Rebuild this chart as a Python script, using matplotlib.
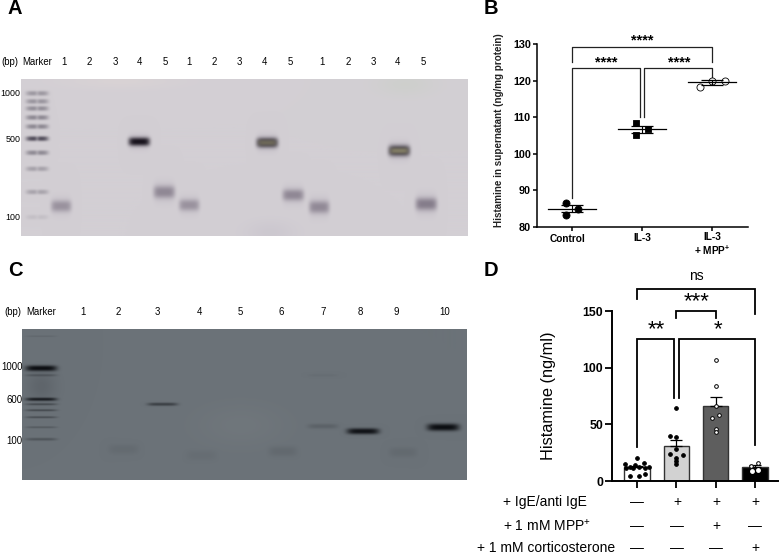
#!/usr/bin/env python3
"""Gel images (A, C) with histamine plots (B, D)"""

import numpy as np
import matplotlib
matplotlib.use('Agg')
import matplotlib.pyplot as plt

plt.rcParams['font.family'] = ['Liberation Sans', 'DejaVu Sans']
plt.rcParams['mathtext.fontset'] = 'custom'
plt.rcParams['mathtext.rm'] = 'Liberation Sans'
plt.rcParams['mathtext.bf'] = 'Liberation Sans:bold'

W, H = 783, 554

# ===== PANEL A GEL (pixel positions on the page) =====
A_LANE_LABELS = ['1', '2', '3', '4', '5', '1', '2', '3', '4', '5', '1', '2', '3', '4', '5']
A_LANE_X = [64, 89, 115, 139, 165, 189, 214, 239, 264, 290, 322, 348, 373, 397, 423]
A_SIZE_LABELS = ['1000', '500', '100']
A_SIZE_Y = [94, 140, 217]
A_BAND_X = [61, 139, 164, 189, 267, 293, 319, 399, 426]
A_BAND_Y = [206, 142, 192, 205, 143, 195, 207, 151, 204]
A_BAND_W = [10, 10.5, 10.5, 10, 10.5, 10.5, 10, 10.5, 10.5]
A_BAND_H = [5.5, 4.2, 6, 5.5, 4.8, 5.5, 6, 5.2, 6]
A_BAND_S = [0.6, 1.0, 0.72, 0.6, 0.9, 0.72, 0.7, 0.9, 0.85]
A_CORE_X = [267, 399]
A_CORE_Y = [143, 151]
A_CORE_S = [0.5, 0.65]
A_LADDER_Y = [94, 102, 109, 118, 127, 139, 153, 169, 192, 217]
A_LADDER_S = [0.36, 0.38, 0.42, 0.46, 0.46, 0.85, 0.45, 0.3, 0.28, 0.1]

# ===== PANEL C GEL =====
C_LANE_LABELS = ['1', '2', '3', '4', '5', '6', '7', '8', '9', '10']
C_LANE_X = [83, 118, 157, 199, 240, 281, 323, 360, 396, 445]
C_SIZE_LABELS = ['1000', '600', '100']
C_SIZE_Y = [367, 400, 441]
C_BAND_X = [162, 322, 322, 362, 442, 123, 201, 282, 402]
C_BAND_Y = [404, 426, 375, 431, 427, 449, 455, 451, 452]
C_BAND_W = [15, 15, 15, 16, 16, 15, 15, 14, 14]
C_BAND_H = [1.6, 2.4, 1.4, 3.0, 3.6, 5, 5, 5, 5]
C_BAND_S = [0.5, 0.16, 0.05, 0.95, 1.0, 0.07, 0.05, 0.09, 0.08]
C_LADDER_Y = [336, 368, 375, 399, 404, 410, 417, 427, 439]
C_LADDER_S = [0.12, 1.0, 0.25, 0.85, 0.4, 0.42, 0.38, 0.25, 0.3]
C_LADDER_H = [0.8, 2.8, 1.2, 1.6, 1.0, 1.0, 1.0, 1.0, 1.4]

# ===== PANEL B DATA =====
B_MEANS = [85.0, 106.7, 119.5]
B_ERRS = [1.0, 1.0, 0.7]
B_DX_CONTROL = [-0.09, 0.09, -0.09]
B_DX_IL3 = [-0.09, 0.09, -0.09]
B_DX_MPP = [-0.18, 0.0, 0.18]
B_POINTS_CONTROL = [86.6, 85.0, 83.3]
B_POINTS_IL3 = [108.3, 106.7, 105.0]
B_POINTS_MPP = [118.3, 120.0, 120.0]
B_TICKS = [80, 90, 100, 110, 120, 130]

# ===== PANEL D DATA =====
D_MEANS = [12, 31, 66, 12.5]
D_ERRS = [1.4, 5, 8, 1.6]
D_COLORS = ['white', '#d2d2d2', '#5e5e5e', 'black']
D_PTS_1 = [20, 15, 12.3, 13.8, 16.2, 11.8, 12, 12.3, 11.2, 11.5, 4, 4.7, 6.2]
D_DX_1 = [0, -0.30, -0.18, -0.05, 0.17, -0.28, 0.06, 0.30, -0.11, 0.2, -0.18, 0.06, 0.19]
D_PTS_2 = [64, 40, 39, 28, 24, 23, 20.6, 17.6, 15.3]
D_DX_2 = [0, -0.17, 0, 0, -0.17, 0.18, 0, 0, 0]
D_PTS_3 = [107, 84, 66, 58.5, 56, 46, 43]
D_DX_3 = [0, 0, 0, 0.09, -0.09, 0, 0]
D_PTS_4 = [16, 13.5, 9, 10]
D_DX_4 = [0.09, -0.09, -0.08, 0.09]
D_TICKS = [0, 50, 100, 150]
D_ROW_LABELS = ['+ IgE/anti IgE', '+ 1 mM MPP$^{+}$', '+ 1 mM corticosterone']
D_ROW_1 = ['—', '+', '+', '+']
D_ROW_2 = ['—', '—', '+', '—']
D_ROW_3 = ['—', '—', '—', '+']


def page_axes(x0, y0, x1, y1):
    # axes placed by page pixels, y measured from the top
    return fig.add_axes([x0 / W, 1 - y1 / H, (x1 - x0) / W, (y1 - y0) / H])


def band(xx, yy, cx, cy, hw, hh):
    return np.exp(-np.abs((xx - cx) / hw) ** 5) * np.exp(-np.abs((yy - cy) / hh) ** 2.5)


def smear(xx, yy, cx, cy, sx, sy):
    return np.exp(-((xx - cx) / sx) ** 2 - ((yy - cy) / sy) ** 2)


def mix(img, color, alpha):
    alpha = np.clip(alpha, 0, 1)[..., None]
    return img * (1 - alpha) + np.array(color) * alpha


fig = plt.figure(figsize=(W / 100, H / 100), dpi=100, facecolor='white')

# overlay for all page text, in pixels
page = fig.add_axes([0, 0, 1, 1], zorder=10)
page.set_xlim(0, W)
page.set_ylim(H, 0)
page.axis('off')
page.patch.set_alpha(0)

for letter, x, y in [('A', 15, 8.5), ('B', 490.5, 8.5), ('C', 15, 270), ('D', 490.5, 270)]:
    page.text(x, y, letter, fontsize=14.5, weight='bold', ha='center', va='center')

# ===== PANEL A =====
x0, x1, y0, y1 = 21, 468, 79, 236
yy, xx = np.mgrid[y0:y1:0.5, x0:x1:0.5]
img = np.ones(xx.shape + (3,)) * np.array([211, 207, 212]) / 255
img = mix(img, np.array([203, 208, 200]) / 255, 0.6 * smear(xx, yy, 405, 85, 30, 12))
img = mix(img, np.array([198, 193, 203]) / 255, 0.5 * smear(xx, yy, 270, 232, 25, 12))
img = mix(img, np.array([222, 214, 214]) / 255, 0.5 * smear(xx, yy, 120, 82, 60, 8))
for cy, s in zip(A_LADDER_Y, A_LADDER_S):
    split = 1 - 0.35 * np.exp(-((xx - 37) / 2.0) ** 2)
    img = mix(img, np.array([60, 55, 70]) / 255, s * split * band(xx, yy, 37, cy, 11, 2.4))
for cx, cy, hw, hh, s in zip(A_BAND_X, A_BAND_Y, A_BAND_W, A_BAND_H, A_BAND_S):
    dark = np.array([25, 20, 30]) / 255 if s > 0.88 else np.array([122, 113, 128]) / 255
    img = mix(img, np.array([150, 140, 160]) / 255, 0.25 * s * band(xx, yy, cx, cy, hw, hh * 1.9))
    img = mix(img, dark, s * band(xx, yy, cx, cy, hw, hh))
for cx, cy, s in zip(A_CORE_X, A_CORE_Y, A_CORE_S):
    img = mix(img, np.array([175, 170, 130]) / 255, s * band(xx, yy, cx, cy, 9, 3))
ax_a = page_axes(x0, y0, x1, y1)
ax_a.imshow(img, extent=[x0, x1, y1, y0], aspect='auto', interpolation='bilinear')
ax_a.axis('off')

page.text(10, 62, '(bp)', fontsize=6.9, ha='center', va='center')
page.text(37, 62, 'Marker', fontsize=6.9, ha='center', va='center')
for x, label in zip(A_LANE_X, A_LANE_LABELS):
    page.text(x, 62, label, fontsize=6.9, ha='center', va='center')
for y, label in zip(A_SIZE_Y, A_SIZE_LABELS):
    page.text(20.5, y, label, fontsize=6.4, ha='right', va='center')

# ===== PANEL C =====
x0, x1, y0, y1 = 22, 466, 329, 480
yy, xx = np.mgrid[y0:y1:0.5, x0:x1:0.5]
img = np.ones(xx.shape + (3,)) * np.array([107, 114, 120]) / 255
img = mix(img, np.array([118, 124, 128]) / 255, 0.45 * smear(xx, yy, 240, 425, 45, 22))
img = mix(img, np.array([92, 98, 104]) / 255, 0.8 * smear(xx, yy, 41, 386, 15, 16))
for cy, s, hh in zip(C_LADDER_Y, C_LADDER_S, C_LADDER_H):
    img = mix(img, np.array([12, 14, 18]) / 255, s * band(xx, yy, 41, cy, 15.5, hh))
for cx, cy, hw, hh, s in zip(C_BAND_X, C_BAND_Y, C_BAND_W, C_BAND_H, C_BAND_S):
    img = mix(img, np.array([12, 14, 18]) / 255, s * band(xx, yy, cx, cy, hw, hh))
ax_c = page_axes(x0, y0, x1, y1)
ax_c.imshow(img, extent=[x0, x1, y1, y0], aspect='auto', interpolation='bilinear')
ax_c.axis('off')

page.text(13, 312, '(bp)', fontsize=6.9, ha='center', va='center')
page.text(41, 312, 'Marker', fontsize=6.9, ha='center', va='center')
for x, label in zip(C_LANE_X, C_LANE_LABELS):
    page.text(x, 312, label, fontsize=6.9, ha='center', va='center')
for y, label in zip(C_SIZE_Y, C_SIZE_LABELS):
    page.text(22.5, y, label, fontsize=6.9, ha='right', va='center')

# ===== PANEL B =====
ax_b = page_axes(537, 44, 748, 227)
ax_b.set_xlim(-0.5, 2.51)
ax_b.set_ylim(80, 130)
ax_b.patch.set_alpha(0)
for side in ['top', 'right']:
    ax_b.spines[side].set_visible(False)
for side in ['left', 'bottom']:
    ax_b.spines[side].set_linewidth(1.1)
ax_b.set_xticks([0, 1, 2])
ax_b.set_xticklabels([])
ax_b.set_yticks(B_TICKS)
ax_b.set_yticklabels([str(t) for t in B_TICKS], fontsize=7.8, weight='bold')
ax_b.tick_params(axis='both', width=1.1, length=3, pad=1.5)

b_points = [B_POINTS_CONTROL, B_POINTS_IL3, B_POINTS_MPP]
b_dx = [B_DX_CONTROL, B_DX_IL3, B_DX_MPP]
b_markers = ['o', 's', 'o']
b_faces = ['black', 'black', 'white']
b_sizes = [26, 24, 26]
for i in range(3):
    ax_b.scatter([i + d for d in b_dx[i]], b_points[i], s=b_sizes[i], marker=b_markers[i],
                 facecolor=b_faces[i], edgecolor='black', linewidth=0.6, zorder=2, clip_on=False)
    ax_b.plot([i - 0.34, i + 0.34], [B_MEANS[i]] * 2, color='black', lw=0.9, zorder=3)
    ax_b.errorbar(i, B_MEANS[i], yerr=B_ERRS[i], color='black', elinewidth=0.8,
                  capsize=8, capthick=0.9, zorder=3)

# significance brackets
b_lines = [([0, 0, 2, 2], [125, 129.2, 129.2, 125]),
           ([0, 0, 0.97, 0.97], [88, 123.4, 123.4, 110]),
           ([1.03, 1.03, 2, 2], [110, 123.4, 123.4, 120.3])]
for bx, by in b_lines:
    ax_b.plot(bx, by, color='#222222', lw=0.9, clip_on=False, zorder=1)

page.text(499, 130, 'Histamine in supernatant (ng/mg protein)', fontsize=7.15, weight='bold',
          rotation=90, ha='center', va='center', color='#222222')
page.text(567, 239.5, 'Control', fontsize=7.3, weight='bold', ha='center', va='center')
page.text(642, 238, 'IL-3', fontsize=7.3, weight='bold', ha='center', va='center')
page.text(712, 237.5, 'IL-3', fontsize=7.3, weight='bold', ha='center', va='center')
page.text(712, 250, '+ MPP$^{\\mathbf{+}}$', fontsize=7.3, weight='bold', ha='center', va='center')
for x, y in [(642, 40.5), (606, 62.5), (679, 62.5)]:
    page.text(x, y, '****', fontsize=10.5, weight='bold', ha='center', va='center')

# ===== PANEL D =====
ax_d = page_axes(612, 311, 778, 481)
ax_d.set_xlim(-0.64, 3.59)
ax_d.set_ylim(0, 150)
ax_d.patch.set_alpha(0)
for side in ['top', 'right']:
    ax_d.spines[side].set_visible(False)
for side in ['left', 'bottom']:
    ax_d.spines[side].set_linewidth(1.4)
ax_d.set_xticks([0, 1, 2, 3])
ax_d.set_xticklabels([])
ax_d.set_yticks(D_TICKS)
ax_d.set_yticklabels([str(t) for t in D_TICKS], fontsize=8.8, weight='bold')
ax_d.tick_params(axis='both', width=1.3, length=5, pad=1.5)

ax_d.bar(range(4), D_MEANS, width=0.65, color=D_COLORS, edgecolor='#333333', linewidth=1.0, zorder=2)
ax_d.errorbar(range(4), D_MEANS, yerr=[[0, 0, 0, 0], D_ERRS], fmt='none', ecolor='black',
              elinewidth=0.9, capsize=4.5, capthick=0.9, zorder=2)
d_pts = [D_PTS_1, D_PTS_2, D_PTS_3, D_PTS_4]
d_dx = [D_DX_1, D_DX_2, D_DX_3, D_DX_4]
d_faces = ['black', 'black', 'white', 'white']
for i in range(4):
    ax_d.scatter([i + d for d in d_dx[i]], d_pts[i], s=7, facecolor=d_faces[i],
                 edgecolor='black', linewidth=0.7, zorder=3, clip_on=False)
# last two points of the black bar sit on black, drawn white
ax_d.scatter([3 + D_DX_4[2], 3 + D_DX_4[3]], D_PTS_4[2:], s=6, color='white', zorder=4)

d_lines = [([0, 0, 3, 3], [160.6, 169.4, 169.4, 147]),
           ([1, 1, 2, 2], [144, 150, 150, 144]),
           ([0, 0, 0.94, 0.94], [30, 125, 125, 73]),
           ([1.08, 1.08, 3, 3], [73, 125, 125, 32])]
for bx, by in d_lines:
    ax_d.plot(bx, by, color='black', lw=1.3, clip_on=False, zorder=1, solid_joinstyle='miter')

page.text(549, 396, 'Histamine (ng/ml)', fontsize=11.8, rotation=90, ha='center', va='center')
page.text(696, 276, 'ns', fontsize=10, ha='center', va='center')
for x, y, s in [(656, 330, '**'), (697, 302, '***'), (718, 330, '*')]:
    page.text(x, y, s, fontsize=16, ha='center', va='center')

for label, x, y in zip(D_ROW_LABELS, [503, 503, 477], [502, 526, 548]):
    page.text(x, y, label, fontsize=10, ha='left', va='center')
for y, row in zip([502, 526, 548], [D_ROW_1, D_ROW_2, D_ROW_3]):
    for x, mark in zip([637, 677, 716, 755], row):
        page.text(x, y, mark, fontsize=10, ha='center', va='center')

plt.savefig('out.png', dpi=100, facecolor='white')
plt.close()
